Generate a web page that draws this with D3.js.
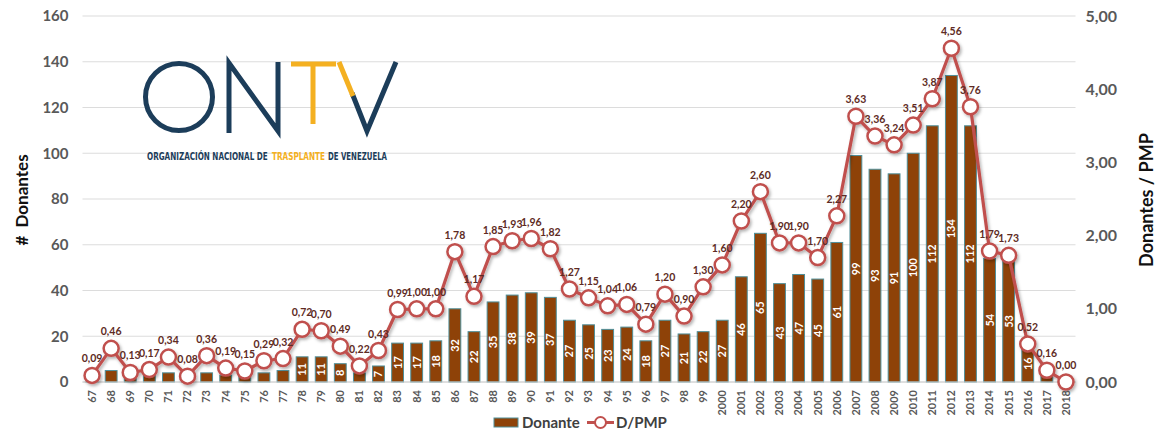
<!DOCTYPE html>
<html>
<head>
<meta charset="utf-8">
<script src="https://cdn.jsdelivr.net/npm/d3@7"></script>
<style>
  body { margin: 0; background: #fff; }
  svg { font-family: Lato, "Open Sans", sans-serif; }
</style>
</head>
<body>
<div id="chart"></div>
<script>
// years shown on the x axis
var years = ["67","68","69","70","71","72","73","74","75","76","77","78","79","80","81","82",
  "83","84","85","86","87","88","89","90","91","92","93","94","95","96","97","98","99",
  "2000","2001","2002","2003","2004","2005","2006","2007","2008","2009","2010","2011","2012",
  "2013","2014","2015","2016","2017","2018"];

// number of donors (bars)
var donantes = [1,5,3,3,4,1,4,3,3,4,5,11,11,8,4,7,
  17,17,18,32,22,35,38,39,37,27,25,23,24,18,27,21,22,
  27,46,65,43,47,45,61,99,93,91,100,112,134,
  112,54,53,16,5,0];

// donors per million population (line)
var dpmp = [0.09,0.46,0.13,0.17,0.34,0.08,0.36,0.19,0.15,0.29,0.32,0.72,0.70,0.49,0.22,0.43,
  0.99,1.00,1.00,1.78,1.17,1.85,1.93,1.96,1.82,1.27,1.15,1.04,1.06,0.79,1.20,0.90,1.30,
  1.60,2.20,2.60,1.90,1.90,1.70,2.27,3.63,3.36,3.24,3.51,3.87,4.56,3.76,1.79,1.73,0.52,0.16,0.00];

var leftTicks = [0,20,40,60,80,100,120,140,160];
var rightTicks = [0,1,2,3,4,5];

var W = 1156, H = 433;
var margin = {top: 16, right: 80.5, bottom: 51, left: 82.5};
var width = W - margin.left - margin.right,
    height = H - margin.top - margin.bottom;

var fmt = function(v) { return d3.format(".2f")(v).replace(".", ","); };

var svg = d3.select("#chart").append("svg")
    .attr("width", W).attr("height", H);

var defs = svg.append("defs");
var f = defs.append("filter").attr("id", "shadow")
    .attr("x", "-10%").attr("y", "-10%").attr("width", "120%").attr("height", "130%");
f.append("feDropShadow").attr("dx", 1.5).attr("dy", 2).attr("stdDeviation", 1.5)
    .attr("flood-color", "#000").attr("flood-opacity", 0.3);

var g = svg.append("g")
    .attr("transform", "translate(" + margin.left + "," + margin.top + ")");

var x = d3.scaleBand().domain(years).range([0, width]).paddingInner(0.38).paddingOuter(0.19);
var y = d3.scaleLinear().domain([0, 160]).range([height, 0]);
var y2 = d3.scaleLinear().domain([0, 5]).range([height, 0]);

// gridlines
g.append("g").selectAll("line").data(leftTicks).enter().append("line")
    .attr("x1", 0).attr("x2", width)
    .attr("y1", function(d) { return y(d); }).attr("y2", function(d) { return y(d); })
    .attr("stroke", "#dcdcdc").attr("stroke-width", 1.2);

// logo
var logo = svg.append("g");
var navy = "#1c3d5a", gold = "#f4b021";
logo.append("ellipse").attr("cx", 179).attr("cy", 97).attr("rx", 33.5).attr("ry", 33.5)
    .attr("fill", "none").attr("stroke", navy).attr("stroke-width", 5);
logo.append("path").attr("d", "M229,133 L229,63 L278,131 L278,62")
    .attr("fill", "none").attr("stroke", navy).attr("stroke-width", 5).attr("stroke-linejoin", "miter");
logo.append("path").attr("d", "M291,64 L336,64 M313,64 L313,124")
    .attr("fill", "none").attr("stroke", gold).attr("stroke-width", 5);
logo.append("path").attr("d", "M352,93 L367,131 L396,62")
    .attr("fill", "none").attr("stroke", navy).attr("stroke-width", 5);
logo.append("path").attr("d", "M339,62 L353,96")
    .attr("fill", "none").attr("stroke", gold).attr("stroke-width", 5);

var subParts = [
  {t: "ORGANIZACIÓN NACIONAL DE", x: 147, w: 121, c: navy},
  {t: "TRASPLANTE", x: 272, w: 53, c: gold},
  {t: "DE VENEZUELA", x: 328, w: 59, c: navy}
];
// squeeze each part of the subtitle horizontally to its width in the logo
logo.selectAll("text.sub").data(subParts).enter().append("text")
    .attr("class", "sub")
    .attr("x", 0).attr("y", 0)
    .attr("font-family", "'DejaVu Sans Condensed', 'Liberation Sans Narrow', sans-serif")
    .attr("font-weight", "bold").attr("font-size", 10.5)
    .attr("fill", function(d) { return d.c; })
    .text(function(d) { return d.t; })
    .attr("transform", function(d) {
      var sx = d.w / this.getComputedTextLength();
      return "translate(" + d.x + ",160)scale(" + sx + ",1)";
    });

// bars
g.append("g").selectAll("rect").data(donantes).enter().append("rect")
    .attr("x", function(d, i) { return x(years[i]); })
    .attr("width", x.bandwidth())
    .attr("y", function(d) { return y(d); })
    .attr("height", function(d) { return height - y(d); })
    .attr("fill", "#8e4208")
    .attr("stroke", "#4f8f99").attr("stroke-width", 1);

// bar labels (white, rotated, centred in bar)
g.append("g").selectAll("text").data(donantes).enter().append("text")
    .attr("transform", function(d, i) {
      return "translate(" + (x(years[i]) + x.bandwidth() / 2 + 4) + "," + ((y(d) + height) / 2) + ")rotate(-90)";
    })
    .attr("text-anchor", "middle")
    .attr("fill", "#fff").attr("font-weight", "bold").attr("font-size", 11)
    .text(function(d) { return d >= 7 ? d : ""; });

// baseline
g.append("line").attr("x1", 0).attr("x2", width).attr("y1", height).attr("y2", height)
    .attr("stroke", "#d0d0d0").attr("stroke-width", 1);

// line series
var cx = function(i) { return x(years[i]) + x.bandwidth() / 2; };
var line = d3.line()
    .x(function(d, i) { return cx(i); })
    .y(function(d) { return y2(d); });

var lg = g.append("g").attr("filter", "url(#shadow)");
lg.append("path").datum(dpmp).attr("d", line)
    .attr("fill", "none").attr("stroke", "#c0504d").attr("stroke-width", 3.2)
    .attr("stroke-linejoin", "round");
lg.selectAll("circle").data(dpmp).enter().append("circle")
    .attr("cx", function(d, i) { return cx(i); })
    .attr("cy", function(d) { return y2(d); })
    .attr("r", 7.5)
    .attr("fill", "#fff").attr("stroke", "#c0504d").attr("stroke-width", 2.5);

// line labels
g.append("g").selectAll("text").data(dpmp).enter().append("text")
    .attr("x", function(d, i) { return cx(i); })
    .attr("y", function(d) { return y2(d) - 13; })
    .attr("text-anchor", "middle")
    .attr("fill", "#5e2b24").attr("font-weight", "bold").attr("font-size", 10.5)
    .text(function(d) { return fmt(d); });

// left axis
var yAxis = g.append("g").call(d3.axisLeft(y).tickValues(leftTicks).tickSize(0).tickPadding(14));
yAxis.select(".domain").remove();
yAxis.selectAll("text").attr("font-family", "Lato, sans-serif").attr("font-size", 15)
    .attr("font-weight", "bold").attr("fill", "#595959");

// right axis
var y2Axis = g.append("g").attr("transform", "translate(" + width + ",0)")
    .call(d3.axisRight(y2).tickValues(rightTicks).tickSize(0).tickPadding(10).tickFormat(fmt));
y2Axis.select(".domain").remove();
y2Axis.selectAll("text").attr("font-family", "Lato, sans-serif").attr("font-size", 16)
    .attr("font-weight", "bold").attr("fill", "#595959");

// x axis
var xAxis = g.append("g").attr("transform", "translate(0," + height + ")")
    .call(d3.axisBottom(x).tickSize(0));
xAxis.select(".domain").remove();
xAxis.selectAll("text")
    .attr("transform", "rotate(-90)")
    .attr("x", -8).attr("y", 0).attr("dy", "0.35em")
    .attr("text-anchor", "end")
    .attr("font-family", "Lato, sans-serif").attr("font-size", 11)
    .attr("font-weight", "bold").attr("fill", "#595959");

// axis titles
svg.append("text").attr("transform", "translate(28,200)rotate(-90)")
    .attr("text-anchor", "middle").attr("font-size", 17).attr("font-weight", "bold").attr("fill", "#111")
    .attr("xml:space", "preserve").text("#  Donantes");
svg.append("text").attr("transform", "translate(1153,200)rotate(-90)")
    .attr("text-anchor", "middle").attr("font-size", 18).attr("font-weight", "bold").attr("fill", "#111")
    .text("Donantes / PMP");

// legend
var leg = svg.append("g");
leg.append("rect").attr("x", 494).attr("y", 418).attr("width", 24).attr("height", 9)
    .attr("fill", "#8e4208").attr("stroke", "#4f8f99").attr("stroke-width", 1);
leg.append("text").attr("x", 522).attr("y", 428).attr("font-size", 15).attr("font-weight", "bold")
    .attr("fill", "#404040").text("Donante");
leg.append("line").attr("x1", 587).attr("x2", 614).attr("y1", 422.5).attr("y2", 422.5)
    .attr("stroke", "#c0504d").attr("stroke-width", 3);
leg.append("circle").attr("cx", 600.5).attr("cy", 422.5).attr("r", 5.5)
    .attr("fill", "#fff").attr("stroke", "#c0504d").attr("stroke-width", 2);
leg.append("text").attr("x", 616).attr("y", 428).attr("font-size", 15).attr("font-weight", "bold")
    .attr("fill", "#404040").text("D/PMP");
</script>
</body>
</html>
